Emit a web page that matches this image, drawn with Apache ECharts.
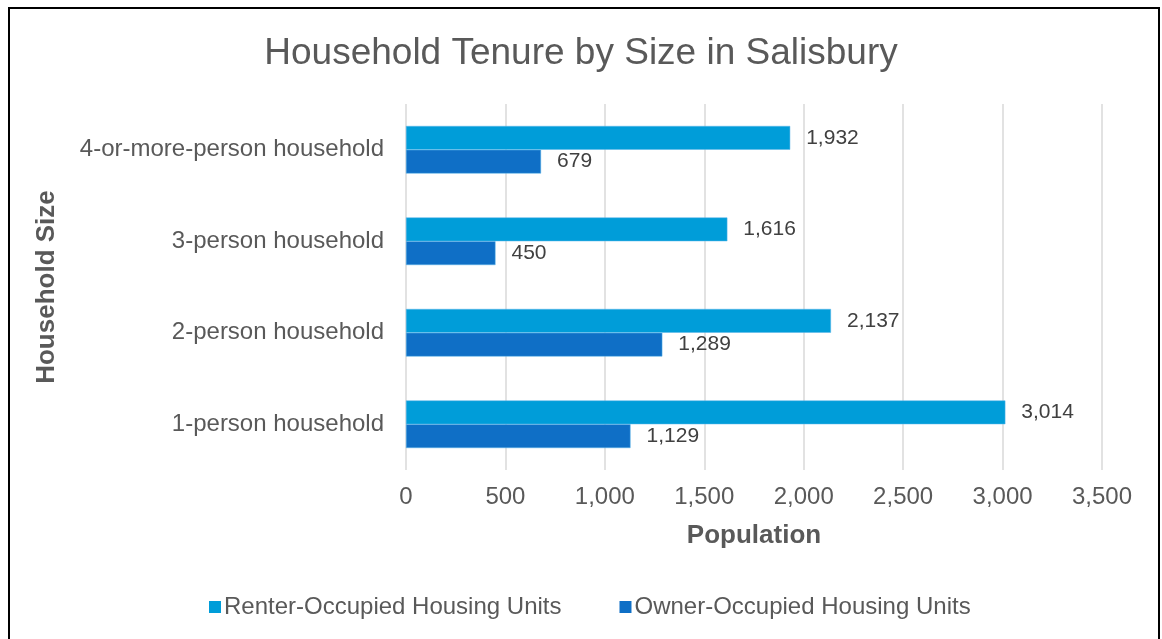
<!DOCTYPE html>
<html>
<head>
<meta charset="utf-8">
<script src="https://cdn.jsdelivr.net/npm/echarts@6/dist/echarts.min.js"></script>
<style>
  html, body { margin: 0; padding: 0; background: #fff; }
  #chart { width: 1162px; height: 639px; }
  #frame { position: absolute; left: 8px; top: 7px; width: 1148px; height: 660px;
           border: 2px solid #000; pointer-events: none; }
</style>
</head>
<body>
<div id="chart"></div>
<div id="frame"></div>
<script>
// Household sizes, bottom to top on the category axis
const categories = ['1-person household', '2-person household', '3-person household', '4-or-more-person household'];
const renterUnits = [3014, 2137, 1616, 1932];
const ownerUnits = [1129, 1289, 450, 679];
const xTicks = { min: 0, max: 3500, interval: 500 };

const textColor = '#595959';
const fontFamily = 'Liberation Sans';
const fmt = v => Number(v).toLocaleString('en-US');

const valueLabel = {
  show: true, position: 'right', distance: 16, formatter: p => fmt(p.value),
  fontFamily, fontSize: 21, color: '#404040'
};

const chart = echarts.init(document.getElementById('chart'));
chart.setOption({
  animation: false,
  title: {
    text: 'Household Tenure by Size in Salisbury',
    left: 'center', top: 30,
    textStyle: { fontFamily, fontSize: 37, fontWeight: 'normal', color: textColor }
  },
  legend: {
    data: ['Renter-Occupied Housing Units', 'Owner-Occupied Housing Units'],
    top: 590, left: 204,
    itemWidth: 12, itemHeight: 12, itemGap: 58,
    icon: 'rect',
    itemStyle: { borderWidth: 0 },
    textStyle: { fontFamily, fontSize: 24, color: textColor, padding: [0, 0, 0, -2] }
  },
  grid: { left: 406, right: 60, top: 104, bottom: 169 },
  xAxis: {
    type: 'value',
    min: xTicks.min, max: xTicks.max, interval: xTicks.interval,
    name: 'Population', nameLocation: 'middle', nameGap: 53,
    nameTextStyle: { fontFamily, fontSize: 26, fontWeight: 'bold', color: textColor },
    axisLine: { show: false }, axisTick: { show: false },
    axisLabel: { fontFamily, fontSize: 24, color: textColor, margin: 15, formatter: fmt },
    splitLine: { lineStyle: { color: '#D9D9D9', width: 1.5 } }
  },
  yAxis: {
    type: 'category', data: categories,
    name: 'Household Size', nameLocation: 'middle', nameGap: 346, nameRotate: 90,
    nameTextStyle: { fontFamily, fontSize: 26, fontWeight: 'bold', color: textColor },
    axisLine: { show: false }, axisTick: { show: false },
    axisLabel: { fontFamily, fontSize: 24, color: textColor, margin: 22 }
  },
  series: [
    {
      name: 'Renter-Occupied Housing Units', type: 'bar', data: renterUnits,
      barGap: '0%', barCategoryGap: '48%',
      itemStyle: { color: '#009DD9', borderColor: '#5BB5E8', borderWidth: 0.5 },
      label: valueLabel
    },
    {
      name: 'Owner-Occupied Housing Units', type: 'bar', data: ownerUnits,
      barGap: '0%', barCategoryGap: '48%',
      itemStyle: { color: '#0F6FC6', borderColor: '#5BB5E8', borderWidth: 0.5 },
      label: valueLabel
    }
  ]
});
</script>
</body>
</html>
